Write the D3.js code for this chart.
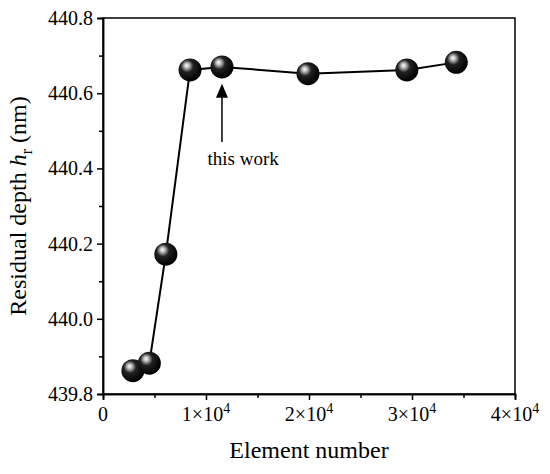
<!DOCTYPE html><html><head><meta charset="utf-8">
<script src="https://cdn.jsdelivr.net/npm/d3@7"></script>
<style>body{margin:0;background:#fff}</style></head><body>
<svg id="c" width="550" height="474"></svg>
<script>
const elements=[2900,4500,6100,8450,11550,19900,29500,34300];
const depths=[439.862,439.882,440.172,440.662,440.670,440.652,440.662,440.682];
const xTicks=[0,10000,20000,30000,40000];
const yTicks=[439.8,440.0,440.2,440.4,440.6,440.8];
const svg=d3.select("#c");
const F="Liberation Serif, Times New Roman, serif";
const L=103,R=515,T=18,B=394;
const x=d3.scaleLinear().domain([0,40000]).range([L,R]);
const y=d3.scaleLinear().domain([439.8,440.8]).range([B,T]);
const defs=svg.append("defs");
const g=defs.append("radialGradient").attr("id","sp").attr("cx","0.4").attr("cy","0.38").attr("r","0.6").attr("fx","0.35").attr("fy","0.3");
g.append("stop").attr("offset","0").attr("stop-color","#fff");
g.append("stop").attr("offset","0.18").attr("stop-color","#bbb");
g.append("stop").attr("offset","0.45").attr("stop-color","#222");
g.append("stop").attr("offset","1").attr("stop-color","#000");
const xa=svg.append("g").attr("transform",`translate(0,${B})`).call(d3.axisBottom(x).tickValues(xTicks).tickSize(6).tickFormat(""));
xa.selectAll("path,line").attr("stroke","#000").attr("stroke-width",1.5);
svg.append("g").attr("transform",`translate(0,${B})`).call(d3.axisBottom(x).tickValues(d3.range(5000,40000,10000)).tickSize(4).tickFormat("")).selectAll("path,line").attr("stroke","#000").attr("stroke-width",1.5);
xTicks.forEach(v=>{const t=svg.append("text").attr("x",x(v)).attr("y",B+27).attr("text-anchor","middle").attr("font-family",F).attr("font-size",20);
 if(v===0)t.text("0");else{t.append("tspan").text((v/10000)+"×10");t.append("tspan").attr("dy",-8).attr("font-size",14).text("4");}});
const ya=svg.append("g").attr("transform",`translate(${L},0)`).call(d3.axisLeft(y).tickValues(yTicks).tickSize(6).tickPadding(4).tickFormat(d3.format(".1f")));
ya.selectAll("path,line").attr("stroke","#000").attr("stroke-width",1.5);
ya.selectAll("text").attr("font-family",F).attr("font-size",20).attr("fill","#000");
svg.append("g").attr("transform",`translate(${L},0)`).call(d3.axisLeft(y).tickValues(d3.range(439.9,440.8,0.2)).tickSize(4).tickFormat("")).selectAll("path,line").attr("stroke","#000").attr("stroke-width",1.5);
svg.append("rect").attr("x",L).attr("y",T).attr("width",R-L).attr("height",B-T).attr("fill","none").attr("stroke","#000").attr("stroke-width",1.5);
svg.append("path").datum(elements.map((e,i)=>[e,depths[i]])).attr("d",d3.line().x(d=>x(d[0])).y(d=>y(d[1]))).attr("fill","none").attr("stroke","#000").attr("stroke-width",2);
svg.selectAll("circle.p").data(elements).join("circle").attr("cx",d=>x(d)).attr("cy",(d,i)=>y(depths[i])).attr("r",11.5).attr("fill","url(#sp)");
const ax=x(11550);
svg.append("line").attr("x1",ax).attr("x2",ax).attr("y1",y(440.47)).attr("y2",y(440.59)).attr("stroke","#000").attr("stroke-width",1.5);
svg.append("path").attr("d",`M${ax},${y(440.625)}l-6,14h12z`).attr("fill","#000");
svg.append("text").attr("x",x(13600)).attr("y",y(440.41)).attr("text-anchor","middle").attr("font-family",F).attr("font-size",19).text("this work");
svg.append("text").attr("x",(L+R)/2).attr("y",458).attr("text-anchor","middle").attr("font-family",F).attr("font-size",24).text("Element number");
const yl=svg.append("text").attr("transform",`translate(26,${(T+B)/2}) rotate(-90)`).attr("text-anchor","middle").attr("font-family",F).attr("font-size",24);
yl.append("tspan").text("Residual depth ");yl.append("tspan").attr("font-style","italic").text("h");
yl.append("tspan").attr("font-size",16).attr("dy",6).text("r");yl.append("tspan").attr("dy",-6).text(" (nm)");
</script></body></html>
